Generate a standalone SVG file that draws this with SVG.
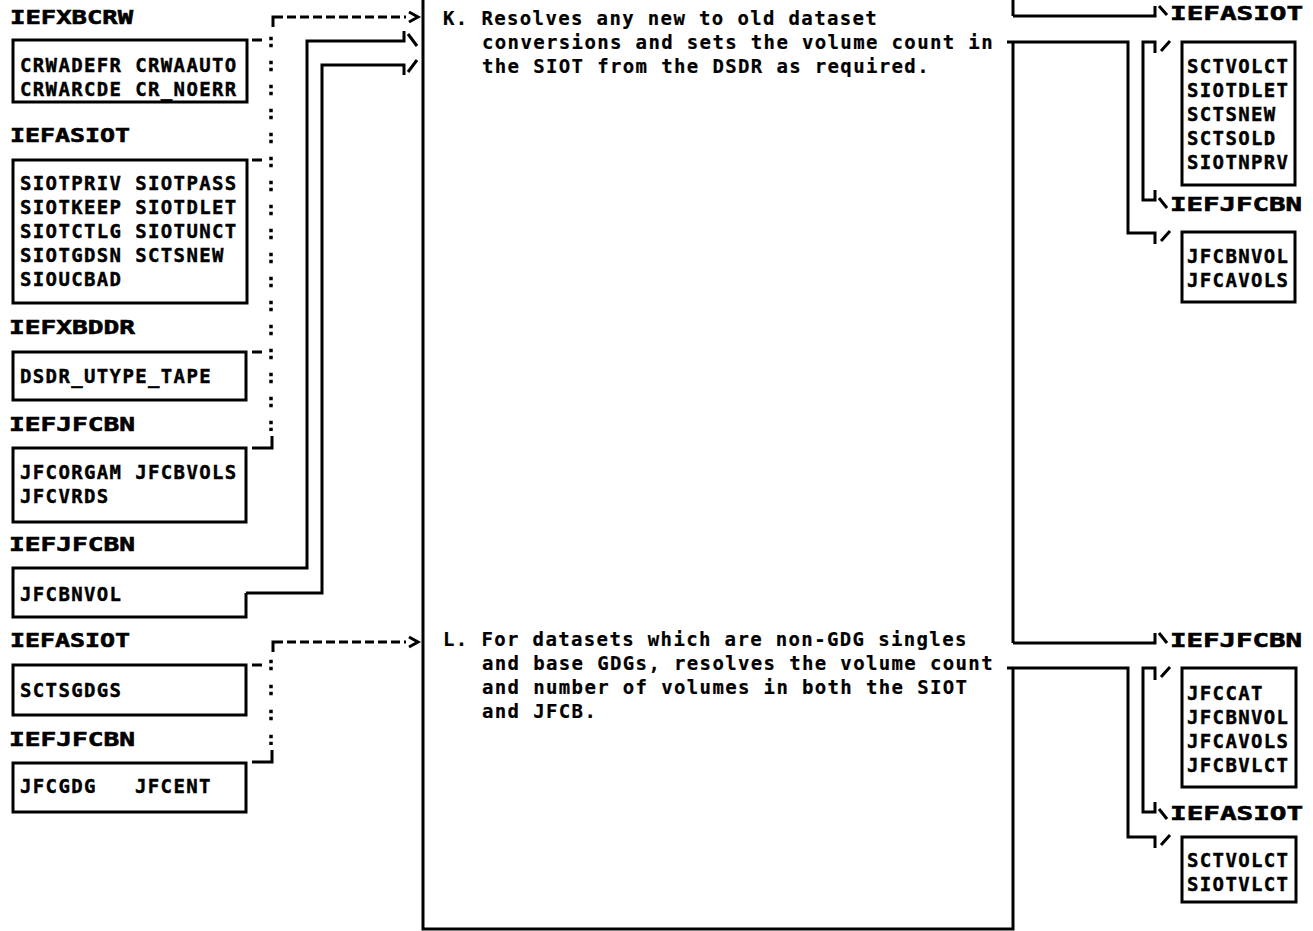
<svg xmlns="http://www.w3.org/2000/svg" width="1313" height="931" viewBox="0 0 1313 931">
<style>
.h{font-family:"DejaVu Sans Mono","Liberation Mono",monospace;font-weight:bold;font-size:20px;fill:#000;stroke:#000;stroke-width:0.6}
.t{font-family:"DejaVu Sans Mono","Liberation Mono",monospace;font-weight:bold;font-size:19px;letter-spacing:1.36px;fill:#000;stroke:#000;stroke-width:0.4}
.b{font-family:"DejaVu Sans Mono","Liberation Mono",monospace;font-weight:bold;font-size:19px;letter-spacing:1.36px;fill:#000;stroke:#000;stroke-width:0.2}
.box{fill:none;stroke:#000;stroke-width:3}
.ln{fill:none;stroke:#000;stroke-width:3}
.dash{fill:none;stroke:#000;stroke-width:3;stroke-dasharray:9 4}
.col{fill:none;stroke:#000;stroke-width:3.5}
</style>
<rect width="1313" height="931" fill="#fff"/>

<g id="process-box">
  <path class="box" d="M423,-2 V929 H1013 V668"/>
  <path class="box" d="M1013,42 V643"/>
  <path class="box" d="M1013,-2 V16"/>
</g>

<g id="step-K">
  <text class="b" x="443" y="25">K. Resolves any new to old dataset</text>
  <text class="b" x="482" y="49">conversions and sets the volume count in</text>
  <text class="b" x="482" y="73">the SIOT from the DSDR as required.</text>
</g>

<g id="step-L">
  <text class="b" x="443" y="646">L. For datasets which are non-GDG singles</text>
  <text class="b" x="482" y="670">and base GDGs, resolves the volume count</text>
  <text class="b" x="482" y="694">and number of volumes in both the SIOT</text>
  <text class="b" x="482" y="718">and JFCB.</text>
</g>

<g id="in-K-IEFXBCRW">
  <text class="h" x="10" y="24" textLength="123" lengthAdjust="spacingAndGlyphs">IEFXBCRW</text>
  <rect class="box" x="13" y="40" width="234" height="62"/>
  <text class="t" x="20" y="72">CRWADEFR CRWAAUTO</text>
  <text class="t" x="20" y="96">CRWARCDE CR_NOERR</text>
</g>

<g id="in-K-IEFASIOT">
  <text class="h" x="10" y="142" textLength="120" lengthAdjust="spacingAndGlyphs">IEFASIOT</text>
  <rect class="box" x="13" y="160" width="234" height="143"/>
  <text class="t" x="20" y="190">SIOTPRIV SIOTPASS</text>
  <text class="t" x="20" y="214">SIOTKEEP SIOTDLET</text>
  <text class="t" x="20" y="238">SIOTCTLG SIOTUNCT</text>
  <text class="t" x="20" y="262">SIOTGDSN SCTSNEW</text>
  <text class="t" x="20" y="286">SIOUCBAD</text>
</g>

<g id="in-K-IEFXBDDR">
  <text class="h" x="9" y="334" textLength="126" lengthAdjust="spacingAndGlyphs">IEFXBDDR</text>
  <rect class="box" x="13" y="352" width="233" height="48"/>
  <text class="t" x="20" y="383">DSDR_UTYPE_TAPE</text>
</g>

<g id="in-K-IEFJFCBN-1">
  <text class="h" x="9" y="431" textLength="126" lengthAdjust="spacingAndGlyphs">IEFJFCBN</text>
  <rect class="box" x="13" y="448" width="233" height="74"/>
  <text class="t" x="20" y="479">JFCORGAM JFCBVOLS</text>
  <text class="t" x="20" y="503">JFCVRDS</text>
</g>

<g id="in-K-IEFJFCBN-2">
  <text class="h" x="9" y="551" textLength="126" lengthAdjust="spacingAndGlyphs">IEFJFCBN</text>
  <path class="box" d="M246,593 V617 H13 V568 H246"/>
  <text class="t" x="20" y="601">JFCBNVOL</text>
</g>

<g id="in-L-IEFASIOT">
  <text class="h" x="10" y="647" textLength="120" lengthAdjust="spacingAndGlyphs">IEFASIOT</text>
  <rect class="box" x="13" y="665" width="233" height="50"/>
  <text class="t" x="20" y="697">SCTSGDGS</text>
</g>

<g id="in-L-IEFJFCBN">
  <text class="h" x="9" y="746" textLength="126" lengthAdjust="spacingAndGlyphs">IEFJFCBN</text>
  <rect class="box" x="13" y="763" width="233" height="49"/>
  <text class="t" x="20" y="793">JFCGDG</text>
  <text class="t" x="135" y="793">JFCENT</text>
</g>

<g id="out-K-IEFASIOT">
  <text class="h" x="1170" y="20" textLength="133" lengthAdjust="spacingAndGlyphs">IEFASIOT</text>
  <rect class="box" x="1182" y="42" width="113" height="143"/>
  <text class="t" x="1187" y="73">SCTVOLCT</text>
  <text class="t" x="1187" y="97">SIOTDLET</text>
  <text class="t" x="1187" y="121">SCTSNEW</text>
  <text class="t" x="1187" y="145">SCTSOLD</text>
  <text class="t" x="1187" y="169">SIOTNPRV</text>
</g>

<g id="out-K-IEFJFCBN">
  <text class="h" x="1170" y="211" textLength="132" lengthAdjust="spacingAndGlyphs">IEFJFCBN</text>
  <rect class="box" x="1182" y="232" width="113" height="70"/>
  <text class="t" x="1187" y="263">JFCBNVOL</text>
  <text class="t" x="1187" y="287">JFCAVOLS</text>
</g>

<g id="out-L-IEFJFCBN">
  <text class="h" x="1170" y="647" textLength="132" lengthAdjust="spacingAndGlyphs">IEFJFCBN</text>
  <rect class="box" x="1182" y="668" width="114" height="119"/>
  <text class="t" x="1187" y="700">JFCCAT</text>
  <text class="t" x="1187" y="724">JFCBNVOL</text>
  <text class="t" x="1187" y="748">JFCAVOLS</text>
  <text class="t" x="1187" y="772">JFCBVLCT</text>
</g>

<g id="out-L-IEFASIOT">
  <text class="h" x="1170" y="820" textLength="133" lengthAdjust="spacingAndGlyphs">IEFASIOT</text>
  <rect class="box" x="1182" y="837" width="114" height="65"/>
  <text class="t" x="1187" y="867">SCTVOLCT</text>
  <text class="t" x="1187" y="891">SIOTVLCT</text>
</g>

<g id="connectors">
  <path class="ln" d="M273,27 V17 H283"/>
  <path class="dash" d="M287,17 H406"/>
  <path class="ln" d="M409,12 L418,17 L409,22"/>
  <path class="col" d="M271,36.75 V431" stroke-dasharray="3.5 3.5 3.5 13.5"/>
  <path class="ln" d="M272,436 V448 H252"/>
  <path class="ln" d="M252,40 H262 M252,160 H262 M252,352 H262"/>
  <path class="ln" d="M246,568 H307 V41 H404 V31"/>
  <path class="ln" d="M408,34 L417,46"/>
  <path class="ln" d="M246,593 H322 V65 H404 V75"/>
  <path class="ln" d="M408,72 L417,60"/>
  <path class="ln" d="M1013,16 H1155 V6"/>
  <path class="ln" d="M1159,6 L1167,15"/>
  <path class="ln" d="M1007,42 H1128 V233 H1155 V244"/>
  <path class="ln" d="M1161,241 L1170,231"/>
  <path class="ln" d="M1155,53 V42 H1143 V200 H1155 V190"/>
  <path class="ln" d="M1161,51 L1170,41"/>
  <path class="ln" d="M1159,198 L1167,208"/>
  <path class="ln" d="M1013,643 H1155 V633"/>
  <path class="ln" d="M1159,633 L1167,643"/>
  <path class="ln" d="M1007,668 H1128 V837 H1155 V848"/>
  <path class="ln" d="M1161,845 L1170,835"/>
  <path class="ln" d="M1155,680 V668 H1143 V812 H1155 V802"/>
  <path class="ln" d="M1161,677 L1170,667"/>
  <path class="ln" d="M1159,809 L1167,819"/>
  <path class="ln" d="M273,652 V642 H283"/>
  <path class="dash" d="M287,642 H406"/>
  <path class="ln" d="M409,637 L418,642 L409,647"/>
  <path class="col" d="M271,659.75 V745" stroke-dasharray="3.5 3.5 3.5 14.5"/>
  <path class="ln" d="M272,750 V762 H252"/>
  <path class="ln" d="M252,665 H262"/>
</g>
</svg>
